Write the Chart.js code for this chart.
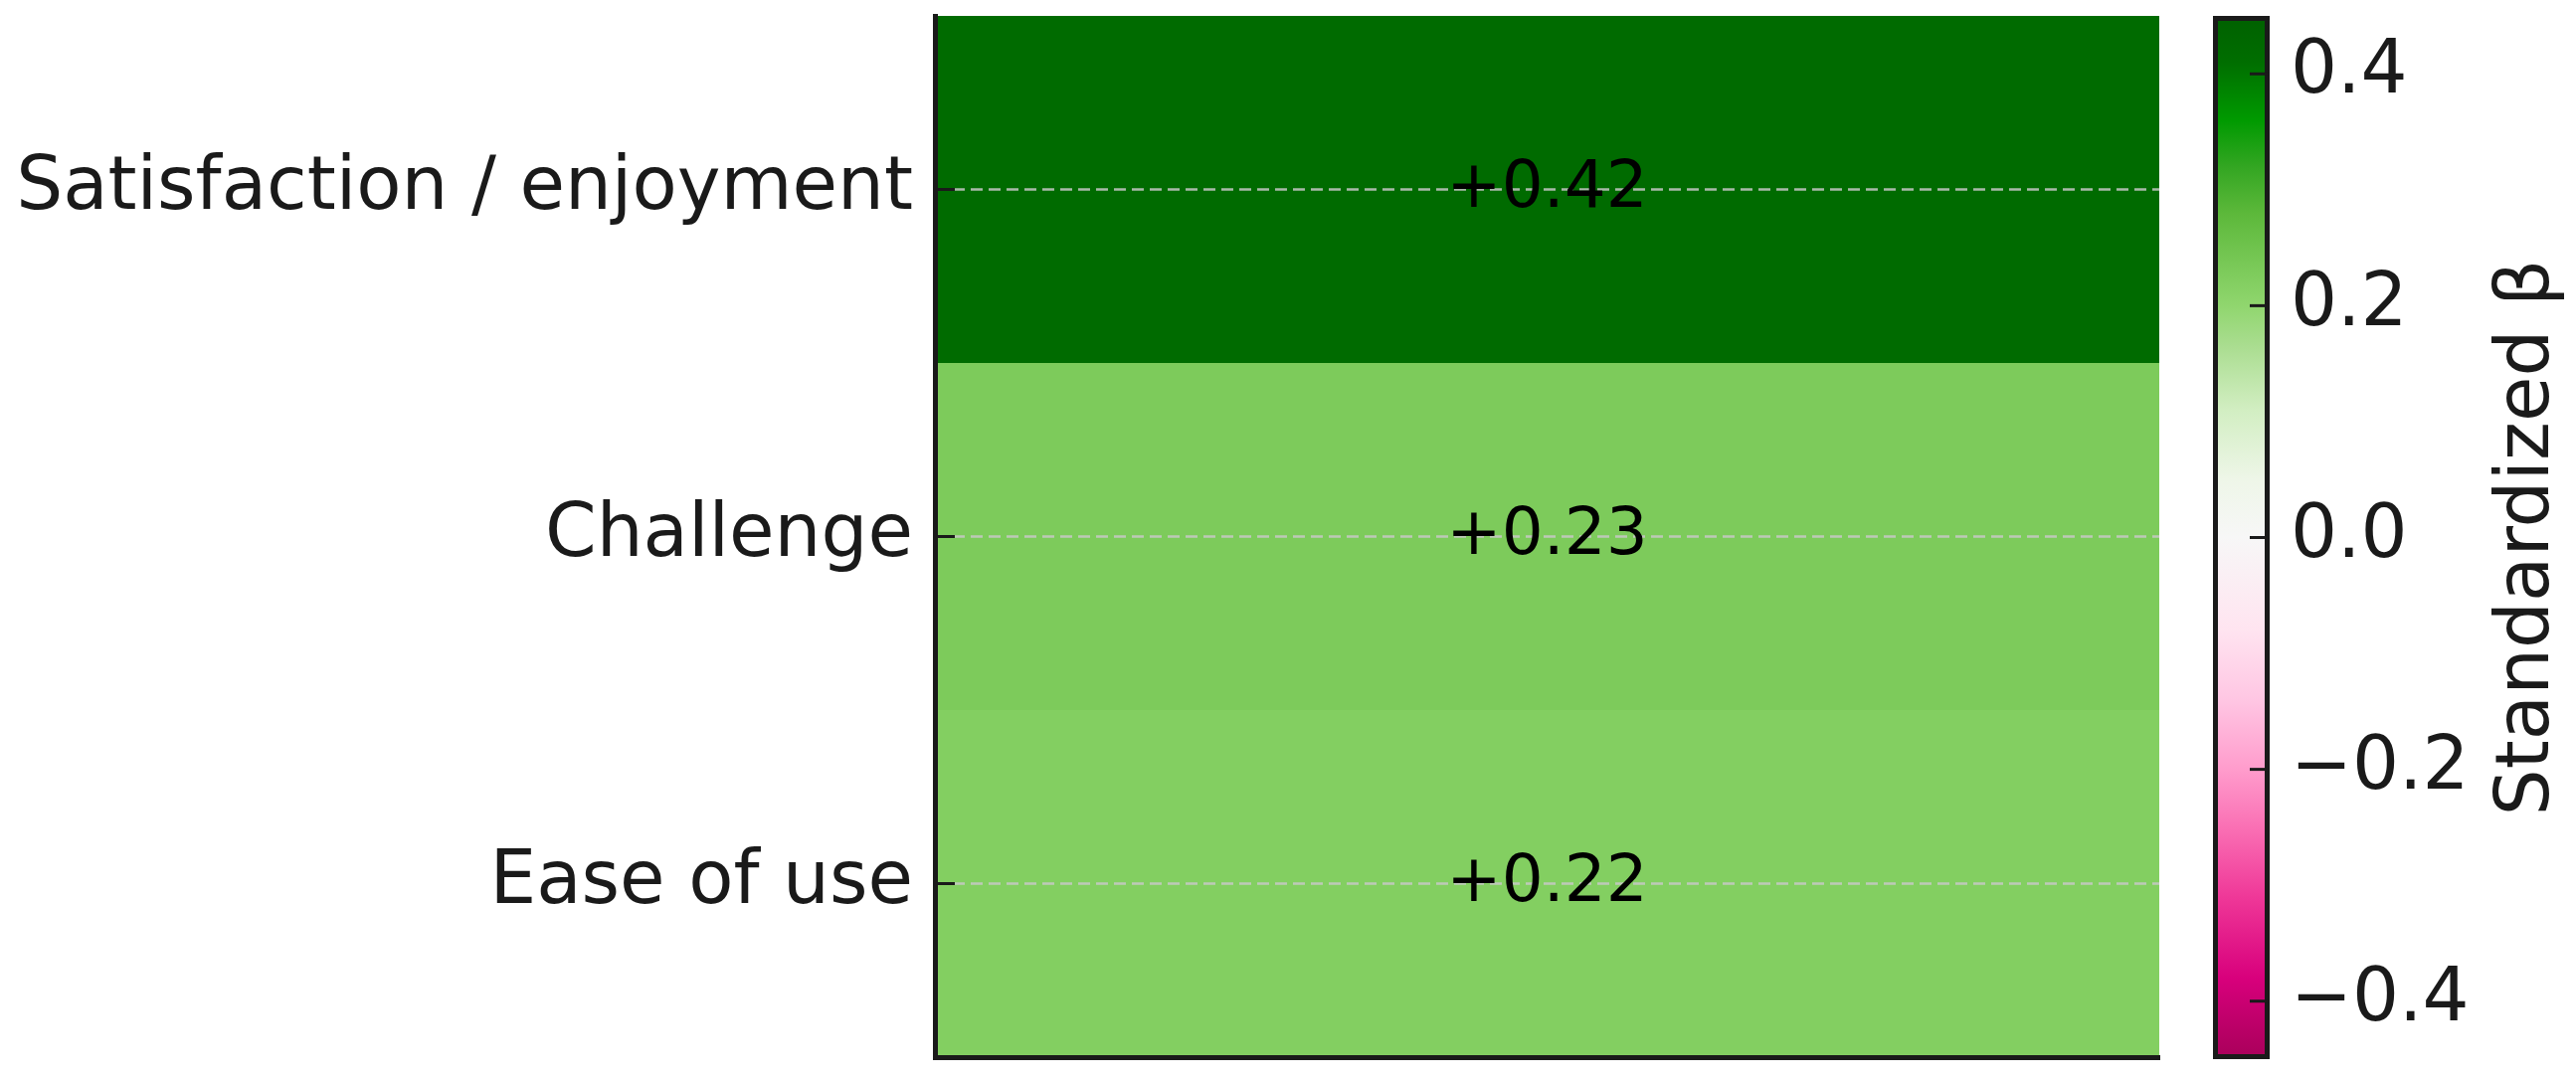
<!DOCTYPE html>
<html>
<head>
<meta charset="utf-8">
<script src="https://cdn.jsdelivr.net/npm/chart.js@4.4.0/dist/chart.umd.min.js"></script>
<style>
  html, body { margin: 0; padding: 0; background: #fff; }
  #wrap { position: relative; width: 2590px; height: 1088px; }
  canvas { position: absolute; top: 0; }
  #heat { left: 0; }
  #cbar { left: 2200px; }
</style>
</head>
<body>
<div id="wrap">
  <canvas id="heat" width="2200" height="1088"></canvas>
  <canvas id="cbar" width="390" height="1088"></canvas>
</div>
<script>
// data
const categories = ['Satisfaction / enjoyment', 'Challenge', 'Ease of use'];
const betaValues = [0.42, 0.23, 0.22];
const cbarMin = -0.45;
const cbarMax = 0.45;
const cbarTicks = [-0.4, -0.2, 0.0, 0.2, 0.4];
const cbarTitle = 'Standardized β';

const FONT = '"DejaVu Sans", sans-serif';
const INK = '#1a1a1a';

// pink -> white -> green colormap (value, rgb)
const cmapStops = [
  [-0.45, [168, 0, 90]],
  [-0.38, [216, 0, 124]],
  [-0.31, [239, 56, 152]],
  [-0.25, [250, 112, 180]],
  [-0.20, [255, 156, 204]],
  [-0.14, [255, 198, 227]],
  [-0.08, [255, 228, 240]],
  [0.00, [247, 247, 247]],
  [0.05, [238, 246, 232]],
  [0.11, [210, 238, 194]],
  [0.165, [170, 221, 144]],
  [0.20, [144, 214, 110]],
  [0.28, [92, 184, 58]],
  [0.32, [51, 166, 34]],
  [0.36, [0, 154, 0]],
  [0.41, [0, 110, 0]],
  [0.45, [0, 96, 0]]
];

function rgb(c) {
  return 'rgb(' + c.map(Math.round).join(',') + ')';
}

function cmap(v) {
  if (v <= cmapStops[0][0]) return rgb(cmapStops[0][1]);
  for (let i = 1; i < cmapStops.length; i++) {
    const [v1, c1] = cmapStops[i];
    if (v <= v1) {
      const [v0, c0] = cmapStops[i - 1];
      const f = (v - v0) / (v1 - v0);
      return rgb(c0.map((x, k) => x + (c1[k] - x) * f));
    }
  }
  return rgb(cmapStops[cmapStops.length - 1][1]);
}

function signed(v) {
  return (v >= 0 ? '+' : '\u2212') + Math.abs(v).toFixed(2);
}

const cellText = {
  id: 'cellText',
  afterDatasetsDraw(chart) {
    const ctx = chart.ctx;
    const area = chart.chartArea;
    const y = chart.scales.y;
    ctx.save();
    // dashed row lines over the cells
    ctx.strokeStyle = 'rgba(200,200,200,0.85)';
    ctx.lineWidth = 2.5;
    ctx.setLineDash([12, 6]);
    categories.forEach((c, i) => {
      const py = y.getPixelForValue(i);
      ctx.beginPath();
      ctx.moveTo(area.left, py);
      ctx.lineTo(area.right, py);
      ctx.stroke();
    });
    ctx.setLineDash([]);
    // inward tick marks
    ctx.strokeStyle = INK;
    ctx.lineWidth = 3;
    categories.forEach((c, i) => {
      const py = y.getPixelForValue(i);
      ctx.beginPath();
      ctx.moveTo(area.left, py);
      ctx.lineTo(area.left + 20, py);
      ctx.stroke();
    });
    // values
    ctx.fillStyle = '#000';
    ctx.font = '66px ' + FONT;
    ctx.textAlign = 'center';
    ctx.textBaseline = 'middle';
    chart.getDatasetMeta(0).data.forEach((bar, i) => {
      const p = bar.getCenterPoint();
      ctx.fillText(signed(betaValues[i]), p.x, p.y);
    });
    ctx.restore();
  }
};

const noPad = s => { s.paddingTop = 0; s.paddingBottom = 0; };

new Chart(document.getElementById('heat'), {
  type: 'bar',
  data: {
    labels: categories,
    datasets: [{
      data: categories.map(() => [0, 1]),
      backgroundColor: betaValues.map(cmap),
      borderWidth: 0,
      inflateAmount: 0,
      barPercentage: 1,
      categoryPercentage: 1
    }]
  },
  options: {
    indexAxis: 'y',
    responsive: false,
    animation: false,
    devicePixelRatio: 1,
    layout: { padding: { top: 16, right: 29, bottom: 25, left: 0 } },
    plugins: { legend: { display: false }, tooltip: { enabled: false } },
    scales: {
      x: {
        type: 'linear', min: 0, max: 1,
        grid: { display: false, drawTicks: false },
        ticks: { display: false },
        border: { display: true, color: INK, width: 5, z: 1 },
        afterFit: s => { s.height = 0; s.paddingLeft = 0; s.paddingRight = 0; }
      },
      y: {
        type: 'category',
        grid: { display: false, drawTicks: false },
        border: { display: true, color: INK, width: 5, z: 1 },
        ticks: { color: INK, font: { family: FONT, size: 74 }, padding: 22 },
        afterFit: s => { s.width = 940; noPad(s); }
      }
    }
  },
  plugins: [cellText]
});

const cbarDecor = {
  id: 'cbarDecor',
  afterDraw(chart) {
    const ctx = chart.ctx;
    const area = chart.chartArea;
    const y = chart.scales.y;
    ctx.save();
    ctx.strokeStyle = INK;
    ctx.lineWidth = 3;
    cbarTicks.forEach(v => {
      const py = y.getPixelForValue(v);
      ctx.beginPath();
      ctx.moveTo(area.right, py);
      ctx.lineTo(area.right - 20, py);
      ctx.stroke();
    });
    ctx.fillStyle = INK;
    ctx.font = '74px ' + FONT;
    ctx.textAlign = 'center';
    ctx.textBaseline = 'alphabetic';
    ctx.translate(362, (area.top + area.bottom) / 2);
    ctx.rotate(-Math.PI / 2);
    ctx.fillText(cbarTitle, 0, 0);
    ctx.restore();
  }
};

new Chart(document.getElementById('cbar'), {
  type: 'bar',
  data: {
    labels: [''],
    datasets: [{
      data: [[cbarMin, cbarMax]],
      backgroundColor: c => {
        const area = c.chart.chartArea;
        if (!area) return null;
        const g = c.chart.ctx.createLinearGradient(0, area.bottom, 0, area.top);
        cmapStops.forEach(([v, col]) => g.addColorStop((v - cbarMin) / (cbarMax - cbarMin), rgb(col)));
        return g;
      },
      borderColor: INK,
      borderWidth: 5,
      borderSkipped: false,
      inflateAmount: 0,
      barPercentage: 1,
      categoryPercentage: 1
    }]
  },
  options: {
    responsive: false,
    animation: false,
    devicePixelRatio: 1,
    layout: { padding: { top: 16, right: 0, bottom: 23, left: 25 } },
    plugins: { legend: { display: false }, tooltip: { enabled: false } },
    scales: {
      x: { display: false },
      y: {
        type: 'linear', position: 'right', min: cbarMin, max: cbarMax,
        grid: { display: false, drawTicks: false },
        border: { display: false },
        afterBuildTicks: s => { s.ticks = cbarTicks.map(v => ({ value: v })); },
        ticks: {
          color: INK, font: { family: FONT, size: 74 }, padding: 21,
          callback: v => (v < 0 ? '\u2212' : '') + Math.abs(v).toFixed(1)
        },
        afterFit: s => { s.width = 308; noPad(s); }
      }
    }
  },
  plugins: [cbarDecor]
});
</script>
</body>
</html>
